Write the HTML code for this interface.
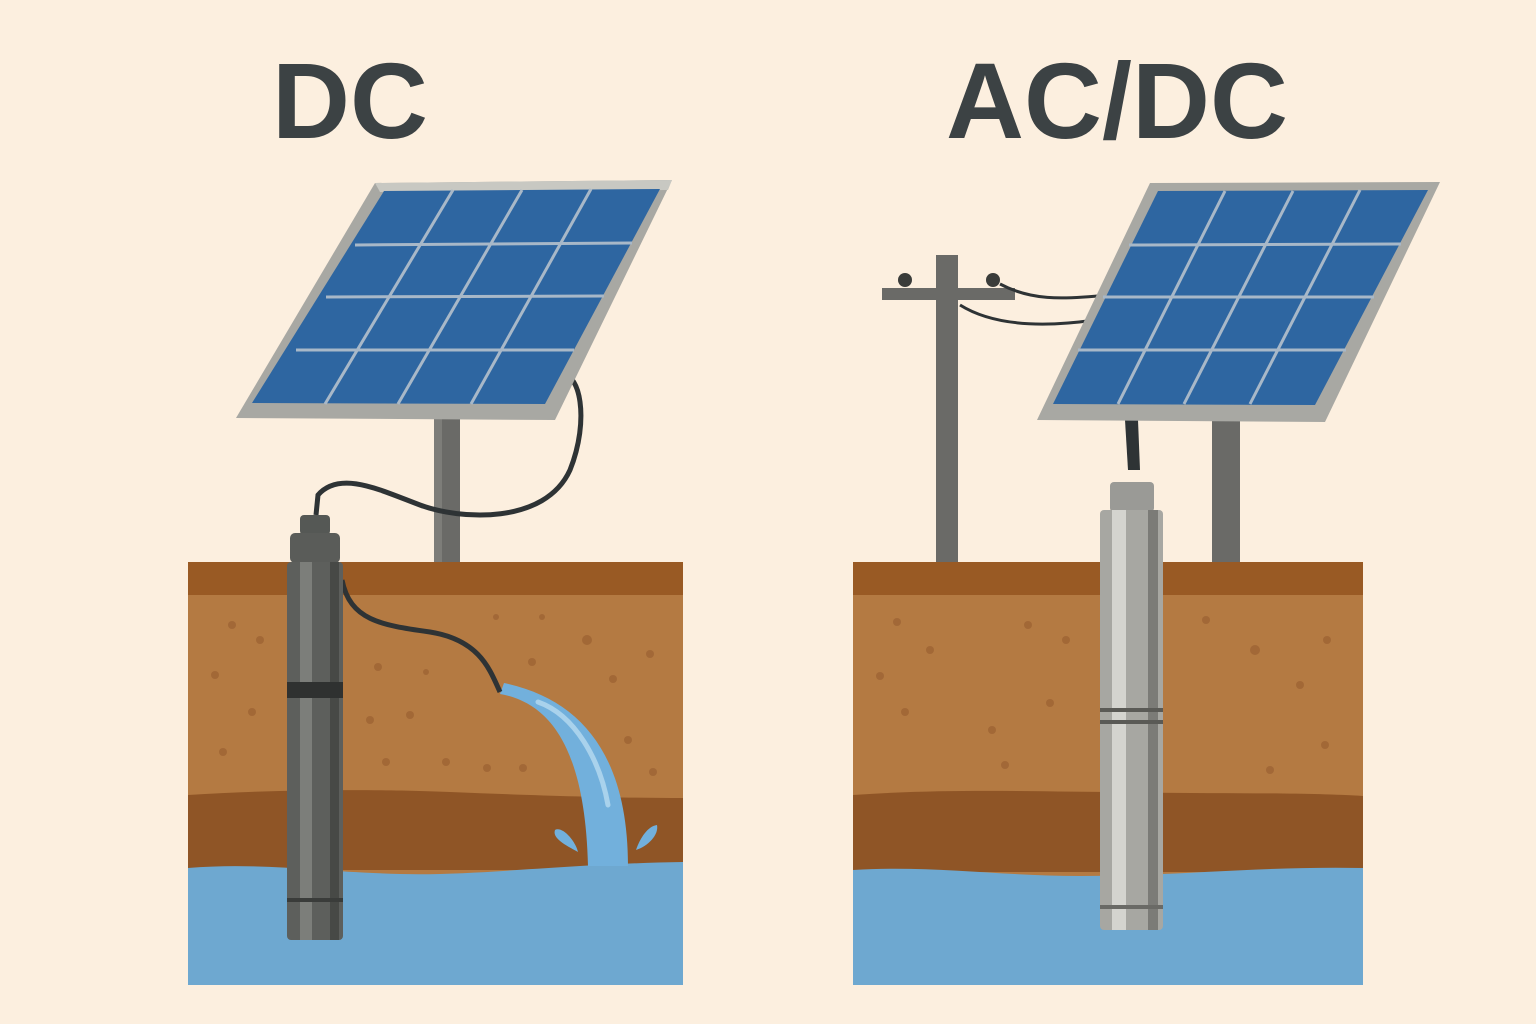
<!DOCTYPE html>
<html><head><meta charset="utf-8"><style>
html,body{margin:0;padding:0;background:#fcefdf;}
svg{display:block}
</style></head><body>
<svg width="1536" height="1024" viewBox="0 0 1536 1024" xmlns="http://www.w3.org/2000/svg">
<rect width="1536" height="1024" fill="#fcefdf"/>
<text x="350" y="138" text-anchor="middle" font-family="Liberation Sans, sans-serif" font-weight="bold" font-size="108" fill="#3c4244">DC</text>
<text x="1117" y="138" text-anchor="middle" font-family="Liberation Sans, sans-serif" font-weight="bold" font-size="108" fill="#3c4244">AC/DC</text>

<!-- LEFT -->
<rect x="434" y="415" width="26" height="150" fill="#6a6a67"/>
<rect x="434" y="415" width="8" height="150" fill="#7d7d79"/>
<rect x="188" y="562" width="495" height="423" fill="#b47a42"/>
<rect x="188" y="562" width="495" height="33" fill="#995a24"/>
<path d="M188 795 C300 788 400 790 450 792 C550 796 620 798 683 798 L683 870 L188 870Z" fill="#8f5526"/>
<path d="M188 868 C260 862 320 872 400 874 C480 876 560 864 683 862 L683 985 L188 985Z" fill="#6ea8d0"/>
<g fill="#9e6434" opacity="0.8">
<circle cx="232" cy="625" r="4"/><circle cx="260" cy="640" r="4"/><circle cx="215" cy="675" r="4"/><circle cx="378" cy="667" r="4"/><circle cx="426" cy="672" r="3"/><circle cx="496" cy="617" r="3"/><circle cx="542" cy="617" r="3"/><circle cx="587" cy="640" r="5"/><circle cx="532" cy="662" r="4"/><circle cx="650" cy="654" r="4"/><circle cx="613" cy="679" r="4"/><circle cx="410" cy="715" r="4"/><circle cx="370" cy="720" r="4"/><circle cx="252" cy="712" r="4"/><circle cx="223" cy="752" r="4"/><circle cx="386" cy="762" r="4"/><circle cx="446" cy="762" r="4"/><circle cx="487" cy="768" r="4"/><circle cx="523" cy="768" r="4"/><circle cx="653" cy="772" r="4"/><circle cx="628" cy="740" r="4"/>
</g>
<path d="M500 694 C545 702 585 740 588 866 L628 866 C628 760 585 700 504 683Z" fill="#72b0dc"/>
<path d="M538 702 C575 715 600 760 608 805" stroke="#a9d2ec" stroke-width="5" fill="none" stroke-linecap="round"/>
<path d="M578 852 C565 845 552 838 555 830 C562 826 575 840 578 852Z" fill="#72b0dc"/>
<path d="M636 850 C640 838 648 826 657 825 C659 835 648 846 636 850Z" fill="#72b0dc"/>
<path d="M560 375 C580 370 590 420 570 470 C545 525 460 520 420 505 C380 490 340 470 318 495 L316 515" stroke="#2e3335" stroke-width="5" fill="none"/>
<path d="M342 580 C350 620 380 625 430 632 C480 640 490 670 500 692" stroke="#2e3335" stroke-width="5" fill="none"/>
<rect x="300" y="515" width="30" height="20" rx="4" fill="#555855"/>
<rect x="290" y="533" width="50" height="30" rx="5" fill="#5a5c59"/>
<rect x="287" y="562" width="56" height="378" rx="4" fill="#5d5f5c"/>
<rect x="300" y="562" width="12" height="378" fill="#7c7e7a"/>
<rect x="330" y="562" width="9" height="378" fill="#474946"/>
<rect x="287" y="682" width="56" height="16" fill="#2f3130"/>
<rect x="287" y="898" width="56" height="4" fill="#3a3c3a"/>
<polygon points="375,183 672,180 555,420 236,418" fill="#a8a8a3"/>
<polygon points="375,183 672,180 668,190 380,192" fill="#c8c8c2"/>
<polygon points="384,191 660,189 545,404 252,403" fill="#2e66a1"/>
<g stroke="#a8b8c8" stroke-width="3">
<line x1="453" y1="190" x2="325" y2="404"/><line x1="522" y1="190" x2="398" y2="404"/><line x1="591" y1="189" x2="471" y2="404"/>
<line x1="355" y1="245" x2="632" y2="243"/><line x1="326" y1="297" x2="604" y2="296"/><line x1="296" y1="350" x2="574" y2="350"/>
</g>

<!-- RIGHT -->
<rect x="1212" y="420" width="28" height="145" fill="#6a6a67"/>
<rect x="936" y="255" width="22" height="310" fill="#6a6a67"/>
<rect x="882" y="288" width="133" height="12" fill="#6a6a67"/>
<circle cx="905" cy="280" r="7" fill="#3a3c3a"/><circle cx="993" cy="280" r="7" fill="#3a3c3a"/>
<path d="M1000 284 C1030 300 1060 300 1108 295" stroke="#2e3335" stroke-width="3" fill="none"/>
<path d="M960 305 C1000 330 1060 325 1095 320" stroke="#2e3335" stroke-width="3" fill="none"/>
<rect x="853" y="562" width="510" height="423" fill="#b47a42"/>
<rect x="853" y="562" width="510" height="33" fill="#995a24"/>
<path d="M853 795 C950 788 1050 792 1120 792 C1200 794 1300 792 1363 796 L1363 872 L853 872Z" fill="#8f5526"/>
<path d="M853 870 C930 865 1000 876 1080 876 C1180 876 1260 866 1363 868 L1363 985 L853 985Z" fill="#6ea8d0"/>
<g fill="#9e6434" opacity="0.8">
<circle cx="897" cy="622" r="4"/><circle cx="930" cy="650" r="4"/><circle cx="880" cy="676" r="4"/><circle cx="1028" cy="625" r="4"/><circle cx="1066" cy="640" r="4"/><circle cx="1206" cy="620" r="4"/><circle cx="1255" cy="650" r="5"/><circle cx="1327" cy="640" r="4"/><circle cx="1300" cy="685" r="4"/><circle cx="1050" cy="703" r="4"/><circle cx="992" cy="730" r="4"/><circle cx="905" cy="712" r="4"/><circle cx="1270" cy="770" r="4"/><circle cx="1325" cy="745" r="4"/><circle cx="1005" cy="765" r="4"/>
</g>
<path d="M1125 420 L1128 470 L1140 470 L1138 420Z" fill="#2e3335"/>
<rect x="1110" y="482" width="44" height="30" rx="4" fill="#9a9a96"/>
<rect x="1100" y="510" width="63" height="420" rx="4" fill="#a7a7a2"/>
<rect x="1112" y="510" width="14" height="420" fill="#d4d4cf"/>
<rect x="1148" y="510" width="10" height="420" fill="#7b7b77"/>
<rect x="1100" y="708" width="63" height="4" fill="#5a5a56"/><rect x="1100" y="720" width="63" height="4" fill="#5a5a56"/>
<rect x="1100" y="905" width="63" height="4" fill="#6a6a66"/>
<polygon points="1150,183 1440,182 1325,422 1037,420" fill="#a8a8a3"/>
<polygon points="1158,191 1428,190 1315,405 1053,404" fill="#2e66a1"/>
<g stroke="#a8b8c8" stroke-width="3">
<line x1="1225" y1="191" x2="1118" y2="404"/><line x1="1293" y1="191" x2="1184" y2="404"/><line x1="1360" y1="190" x2="1250" y2="404"/>
<line x1="1129" y1="245" x2="1401" y2="244"/><line x1="1103" y1="297" x2="1374" y2="297"/><line x1="1078" y1="350" x2="1346" y2="350"/>
</g>
</svg>
</body></html>
